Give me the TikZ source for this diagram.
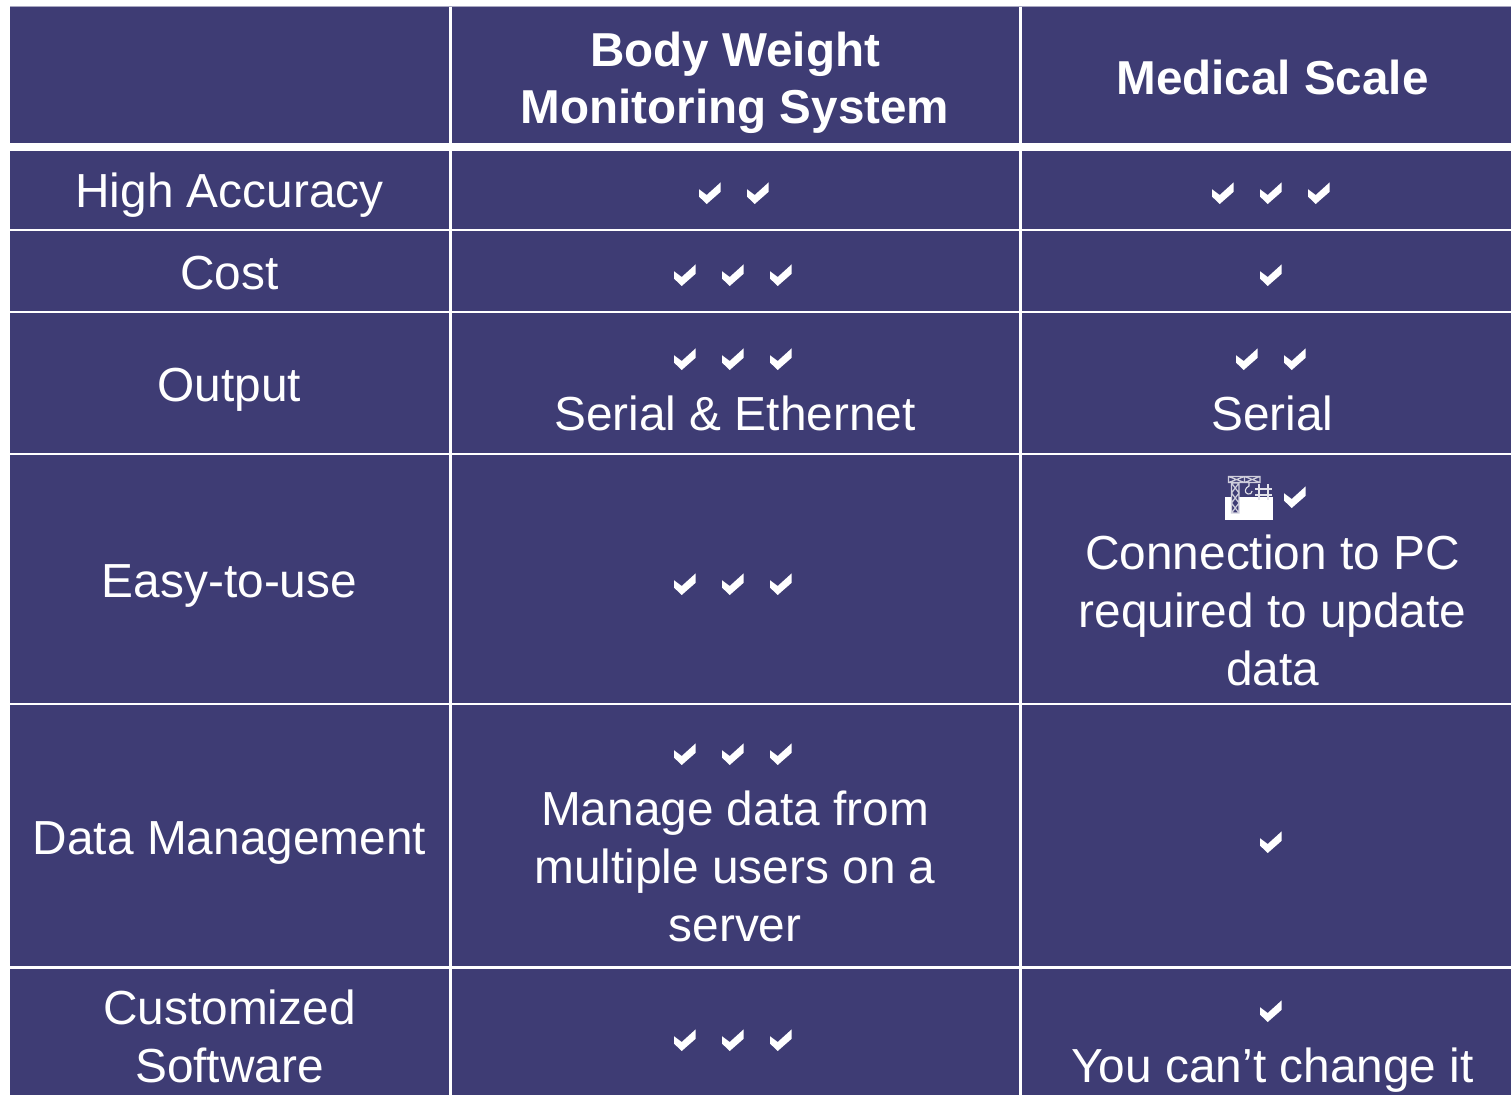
\documentclass[tikz,border=0pt]{standalone}
\usepackage{fontspec}
\setmainfont{Liberation Sans}
\definecolor{cellblue}{HTML}{3E3C74}
\newcommand{\tk}[2]{\fill[white,shift={(#1,#2)}] (-11,-3.8) -- (-3.3,2) -- (10.7,-10.7) -- (10.7,-1.3) -- (-3.3,11) -- (-11,3.6) -- cycle;}
\tikzset{x=1pt,y=-1pt,
  cell/.style={text=white,font=\fontsize{47.8}{58}\selectfont,align=center,inner sep=0pt,anchor=base},
  head/.style={cell,font=\fontsize{47.6}{57}\selectfont\bfseries},
  gridline/.style={draw=white,line width=2.4pt}}
\begin{document}
\begin{tikzpicture}
\useasboundingbox (0,0) rectangle (1511,1095);
\fill[white] (0,0) rectangle (1511,1095);
\fill[cellblue] (10,6.5) rectangle (1511,1095);
\draw[white!55!cellblue,line width=1pt] (10,6.5) -- (1511,6.5);
% grid
\draw[white,line width=7.4pt] (10,147) -- (1511,147);
\foreach \y in {230,312,454,704,967.5} \draw[gridline] (10,\y) -- (1511,\y);
\foreach \x in {450.5,1020.5} \draw[gridline] (\x,6.5) -- (\x,1095);
% header
\node[head] (h1) at (735,123) {Body Weight\\Monitoring System};
\node[head] (h2) at (1272.5,94) {Medical Scale};
% row labels
\node[cell] (r1) at (229.5,207) {High Accuracy};
\node[cell] (r2) at (229.5,289) {Cost};
\node[cell] (r3) at (229.5,401) {Output};
\node[cell] (r4) at (229.5,597) {Easy-to-use};
\node[cell] (r5) at (229.5,854) {Data Management};
\node[cell] (r6) at (229.5,1082) {Customized\\Software};
% cells
\node[cell] (c32) at (735,430) {Serial \& Ethernet};
\node[cell] (c33) at (1272.5,430) {Serial};
\node[cell] (c43) at (1272.5,685) {Connection to PC\\required to update\\data};
\node[cell] (c52) at (735,941) {Manage data from\\multiple users on a\\server};
\node[cell] (c63) at (1272.5,1082) {You can’t change it};
% ticks
\tk{710}{193}\tk{758}{193}
\tk{1223}{193}\tk{1271}{193}\tk{1319}{193}
\tk{685}{275}\tk{733}{275}\tk{781}{275}
\tk{1271}{275}
\tk{685}{359}\tk{733}{359}\tk{781}{359}
\tk{1247}{359}\tk{1295}{359}
\tk{685}{584}\tk{733}{584}\tk{781}{584}
\tk{1295}{497}
\tk{685}{754}\tk{733}{754}\tk{781}{754}
\tk{1271}{842}
\tk{685}{1040}\tk{733}{1040}\tk{781}{1040}
\tk{1271}{1011}
% construction glyph
\fill[white] (1225,497) rectangle (1273,519.5);
\draw[white!75!cellblue,line width=1.2pt] (1228.5,476.5) rectangle (1260,482.5)
  (1228.5,476.5) -- (1244.5,482.5) (1228.5,482.5) -- (1244.5,476.5)
  (1244.5,476.5) -- (1260,482.5) (1244.5,482.5) -- (1260,476.5)
  (1244.5,476.5) -- (1244.5,482.5);
\fill[cellblue] (1231.5,483) rectangle (1239,513);
\draw[white!75!cellblue,line width=1.2pt] (1231.5,483) rectangle (1239,513)
  (1231.5,483) -- (1239,493) -- (1231.5,503) -- (1239,513)
  (1239,483) -- (1231.5,493) -- (1239,503) -- (1231.5,513);
\draw[white!85!cellblue,line width=1.1pt] (1249,483) -- (1249,486)
  .. controls (1244.5,488) and (1244,493) .. (1248,494)
  .. controls (1250,494.5) and (1252,493.5) .. (1252,491);
\draw[white!85!cellblue,line width=1.6pt] (1258.7,484) -- (1258.7,500) (1268,484) -- (1268,500)
  (1255,489) -- (1272,489) (1255,495) -- (1272,495);
\end{tikzpicture}
\end{document}
